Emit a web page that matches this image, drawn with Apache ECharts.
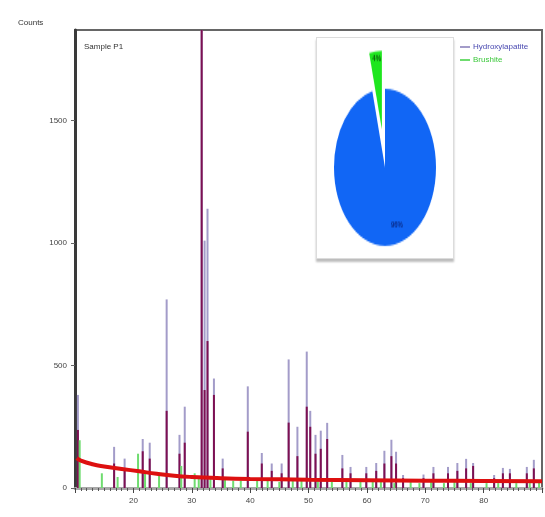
<!DOCTYPE html>
<html>
<head>
<meta charset="utf-8">
<script src="https://cdn.jsdelivr.net/npm/echarts@6/dist/echarts.min.js"></script>
<style>
html,body{margin:0;padding:0;background:#fff;}
#main{position:absolute;left:0;top:0;width:545px;height:517px;}
#box{position:absolute;left:316px;top:37px;width:136px;height:220px;background:#fff;border:1px solid #dcdcdc;box-shadow:0 3px 2px #bdbdbd;overflow:hidden;}
#pie{position:absolute;left:0;top:0;width:136px;height:143px;transform:scaleY(1.54);transform-origin:0 0;}
</style>
</head>
<body>
<div id="main"></div>
<div id="box"><div id="pie"></div></div>
<script>
// 2-theta positions (deg) of reference peaks
const peakPos = [10.5,16.7,18.5,21.6,22.8,25.7,27.9,28.8,31.7,32.2,32.7,33.8,35.3,39.6,42.0,43.7,45.4,46.6,48.1,49.7,50.3,51.2,52.1,53.2,55.8,57.2,59.9,61.6,63.0,64.2,65.0,66.2,69.7,71.4,73.9,75.5,77.0,78.2,81.8,83.3,84.5,87.4,88.6];
// Hydroxylapatite reference stick heights (counts)
const hapHeights = [380,168,120,200,185,770,217,332,1870,1010,1140,447,120,415,143,100,100,525,250,557,315,217,234,266,135,86,86,102,152,197,148,53,55,86,86,102,119,102,53,82,78,86,115];
// observed peak heights (counts)
const obsHeights = [237,100,70,150,120,315,140,185,1870,400,600,380,80,230,100,70,60,267,130,332,250,140,160,200,80,60,60,70,100,130,100,40,40,60,60,70,80,90,40,60,60,60,80];
// Brushite reference sticks
const brPos = [10.8,14.6,17.3,20.8,22.0,24.4,28.2,30.5,31.2,33.2,35.7,37.1,38.4,41.2,43.0,45.0,47.3,48.8,51.6,54.0,56.5,58.9,61.0,62.4,64.7,67.5,69.0,71.0,73.2,75.0,77.8,80.5,82.5,85.6,87.9,89.5];
const brHeights = [195,60,45,140,60,50,90,60,45,40,35,30,30,35,30,25,30,30,35,25,25,30,25,25,20,25,20,25,20,25,20,20,20,20,20,25];
// background (observed baseline)
const bgPos = [10.3,11,13,15,18,21,24,27,30,35,40,50,60,70,80,90];
const bgCounts = [122,112,97,88,78,68,58,50,45,40,37,34,32,30,29,28];
// pie
const phaseNames = ['Hydroxylapatite','Brushite'];
const phaseShare = [96,4];
const xTicks = [20,30,40,50,60,70,80];
const yTicks = [0,500,1000,1500];

const font = 'Liberation Sans, Arial, sans-serif';
const pair = (a,b)=>a.map((v,i)=>[v,b[i]]);

const main = echarts.init(document.getElementById('main'), null, {renderer:'canvas'});
main.setOption({
  animation:false,
  textStyle:{fontFamily:font},
  title:[
    {text:'Counts', left:13, top:14, textStyle:{fontSize:8, fontWeight:'normal', color:'#333', fontFamily:font}},
    {text:'Sample P1', left:79, top:38, textStyle:{fontSize:8, fontWeight:'normal', color:'#333', fontFamily:font}}
  ],
  legend:{
    orient:'vertical', left:455, top:38, itemGap:5, itemWidth:10, itemHeight:2, icon:'rect',
    textStyle:{fontSize:8, fontFamily:font, padding:[0,0,0,-2]},
    data:[{name:phaseNames[0], textStyle:{color:'#4848b0'}},{name:phaseNames[1], textStyle:{color:'#3cc83c'}}]
  },
  grid:{left:75, right:3, top:30, bottom:29, show:true, borderColor:'#666', borderWidth:2, backgroundColor:'#fff'},
  xAxis:{
    type:'value', min:10, max:90, interval:10,
    axisLine:{show:true, onZero:false, lineStyle:{color:'#a8a8a8', width:3}},
    axisTick:{show:true, length:5, lineStyle:{color:'#444'}},
    minorTick:{show:true, splitNumber:10, length:3, lineStyle:{color:'#555'}},
    axisLabel:{fontSize:8, color:'#444', margin:9, formatter:v=>xTicks.includes(v)?String(v):''},
    splitLine:{show:false}
  },
  yAxis:{
    type:'value', min:0, max:1870, interval:500,
    axisLine:{show:true, lineStyle:{color:'#3a3a3a', width:3}},
    axisTick:{show:true, length:4, lineStyle:{color:'#666'}},
    axisLabel:{fontSize:8, color:'#444', margin:8, showMaxLabel:false, formatter:v=>yTicks.includes(v)?String(v):''},
    splitLine:{show:false}
  },
  series:[
    {name:phaseNames[0], type:'bar', barWidth:2, barGap:'-100%', itemStyle:{color:'#a39cc9'}, data:pair(peakPos,hapHeights)},
    {name:'Observed', type:'bar', barWidth:2, barGap:'-100%', itemStyle:{color:'#7d1052'}, data:pair(peakPos,obsHeights)},
    {name:phaseNames[1], type:'bar', barWidth:2, barGap:'-100%', itemStyle:{color:'#6fdc6f'}, data:pair(brPos,brHeights)},
    {name:'Background', type:'line', smooth:true, symbol:'none', lineStyle:{color:'#dd1010', width:4}, z:5, data:pair(bgPos,bgCounts)}
  ]
});

const pie = echarts.init(document.getElementById('pie'), null, {renderer:'canvas'});
pie.setOption({
  animation:false,
  series:[{
    type:'pie', center:[68,84], radius:51, startAngle:90, clockwise:true,
    selectedMode:'single', selectedOffset:25,
    label:{position:'inside', fontSize:6, lineHeight:6, fontWeight:'bold', fontFamily:font},
    labelLine:{show:false},
    emphasis:{disabled:true},
    data:[
      {name:phaseNames[0], value:phaseShare[0], itemStyle:{color:'#1166f5'},
       label:{formatter:p=>'\n\n\n' + '          ' + p.value + '%', color:'#0a2d8c'}},
      {name:phaseNames[1], value:phaseShare[1], selected:true, itemStyle:{color:'#1ee61e'},
       label:{formatter:p=>p.value + '%  ' + '\n\n\n\n\n\n', color:'#0b5e0b'}}
    ]
  }]
});
</script>
</body>
</html>
